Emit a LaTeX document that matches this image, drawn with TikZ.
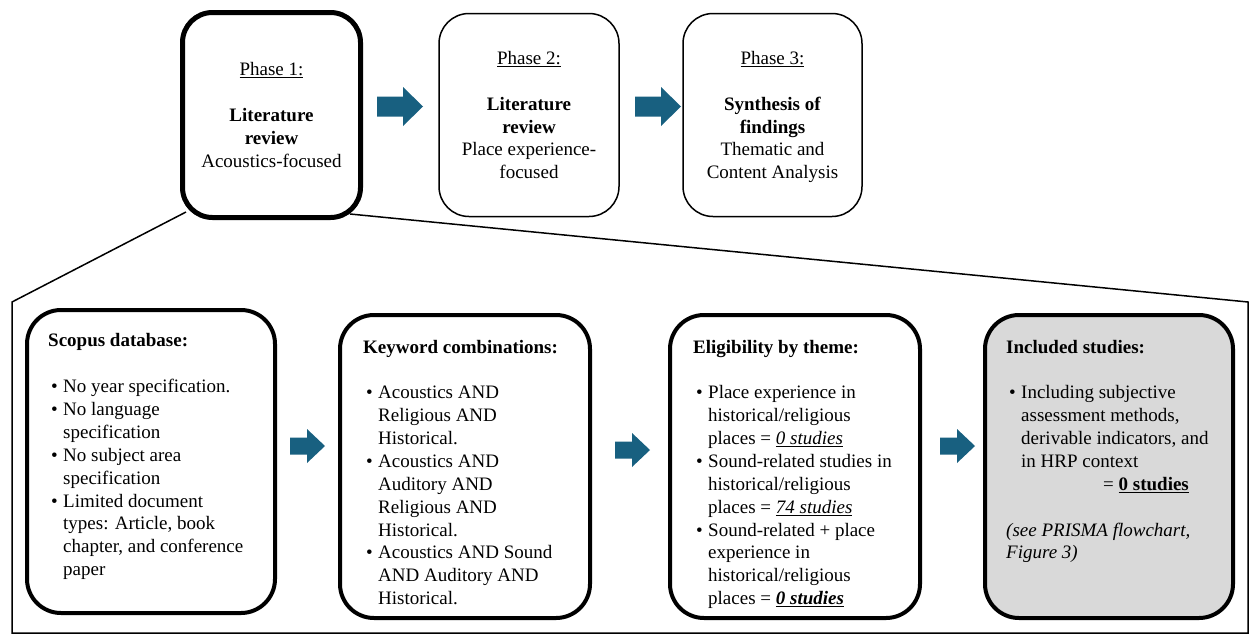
\documentclass[tikz,border=0pt]{standalone}
\usepackage{fontspec}
\setmainfont{Liberation Serif}
\definecolor{arrowc}{RGB}{24,96,128}
\definecolor{inclgray}{RGB}{217,217,217}
\newcommand\bul{\makebox[15pt][l]{\hspace{3pt}\textbullet}}
\newcommand\ind{\hspace*{15pt}}
\newcommand\nodepth[1]{\raisebox{0pt}[\height][0pt]{#1}}
% #1 left x, #2 centre y, #3 length, #4 head length, #5 head half width, #6 shaft half width
\newcommand\blkarrow[6]{%
  \fill[arrowc] (#1,{#2-#6}) -- ({#1+#3-#4},{#2-#6}) -- ({#1+#3-#4},{#2-#5}) -- ({#1+#3},#2)
    -- ({#1+#3-#4},{#2+#5}) -- ({#1+#3-#4},{#2+#6}) -- (#1,{#2+#6}) -- cycle;}
\tikzset{
  txt/.style={font=\fontsize{19}{22.9}\selectfont},
  phasebox/.style={draw, fill=white, rounded corners=30pt, line width=1.5pt, align=center, txt, inner sep=0pt},
  stagebox/.style={draw, fill=white, rounded corners=34pt, line width=4pt, inner sep=0pt},
  stagetext/.style={txt, align=left, anchor=north west, inner sep=0pt},
}
\begin{document}
\begin{tikzpicture}[x=1pt,y=-1pt]
\useasboundingbox (0,0) rectangle (1258,643);
% zoom outline
\draw[line width=1.5pt, line join=miter] (186,212) -- (12,302) -- (12,633) -- (1248,633) -- (1248,302) -- (350,214);
% top phases
\node[phasebox, line width=5pt, minimum width=178pt, minimum height=205pt] (p1) at (271.5,115)
  {\underline{Phase 1:}\\[23pt]\textbf{Literature}\\\textbf{review}\\Acoustics-focused};
\node[phasebox, minimum width=180pt, minimum height=203pt] (p2) at (529,115)
  {\underline{Phase 2:}\\[23pt]\textbf{Literature}\\\textbf{review}\\Place experience-\\focused};
\node[phasebox, minimum width=179pt, minimum height=203pt] (p3) at (772.5,115)
  {\underline{Phase 3:}\\[23pt]\textbf{Synthesis of}\\\textbf{findings}\\Thematic and\\\nodepth{Content Analysis}};
\blkarrow{377}{106.5}{46}{20}{19.5}{10}
\blkarrow{635}{106.5}{46}{20}{19.5}{10}
% bottom stages
\node[stagebox, minimum width=248pt, minimum height=303pt] (sA) at (151,461.5) {};
\node[stagebox, minimum width=250pt, minimum height=303pt] (sB) at (465,466.5) {};
\node[stagebox, minimum width=250pt, minimum height=303pt] (sC) at (795,466.5) {};
\node[stagebox, fill=inclgray, minimum width=248pt, minimum height=303pt] (sD) at (1109,466.5) {};
\blkarrow{290}{446}{35}{18}{17}{8.5}
\blkarrow{615}{450}{35}{18}{17}{8.5}
\blkarrow{940}{446}{35}{18}{17}{8.5}
\node[stagetext] (tA) at (48,330.5) {\strut\textbf{Scopus database:}\\[22.9pt]
  \bul No year specification.\\
  \bul No language\\
  \ind specification\\
  \bul No subject area\\
  \ind specification\\
  \bul Limited document\\
  \ind types: Article, book\\
  \ind chapter, and conference\\
  \ind paper};
\node[stagetext] (tB) at (363,337.5) {\strut\textbf{Keyword combinations:}\\[22pt]
  \bul Acoustics AND\\
  \ind Religious AND\\
  \ind Historical.\\
  \bul Acoustics AND\\
  \ind Auditory AND\\
  \ind Religious AND\\
  \ind Historical.\\
  \bul Acoustics AND Sound\\
  \ind AND Auditory AND\\
  \ind Historical.};
\node[stagetext] (tC) at (693,337.5) {\strut\textbf{Eligibility by theme:}\\[22pt]
  \bul Place experience in\\
  \ind historical/religious\\
  \ind places = \underline{\textit{0 studies}}\\
  \bul Sound-related studies in\\
  \ind historical/religious\\
  \ind places = \underline{\textit{74 studies}}\\
  \bul Sound-related + place\\
  \ind experience in\\
  \ind historical/religious\\
  \ind places = \underline{\textbf{\textit{0 studies}}}};
\node[stagetext] (tD) at (1006,337.5) {\strut\textbf{Included studies:}\\[22pt]
  \bul Including subjective\\
  \ind assessment methods,\\
  \ind derivable indicators, and\\
  \ind in HRP context\\
  \hspace*{97pt}= \underline{\textbf{0 studies}}\\[22.9pt]
  \textit{(see PRISMA flowchart,}\\
  \textit{Figure 3)}};
\end{tikzpicture}
\end{document}
